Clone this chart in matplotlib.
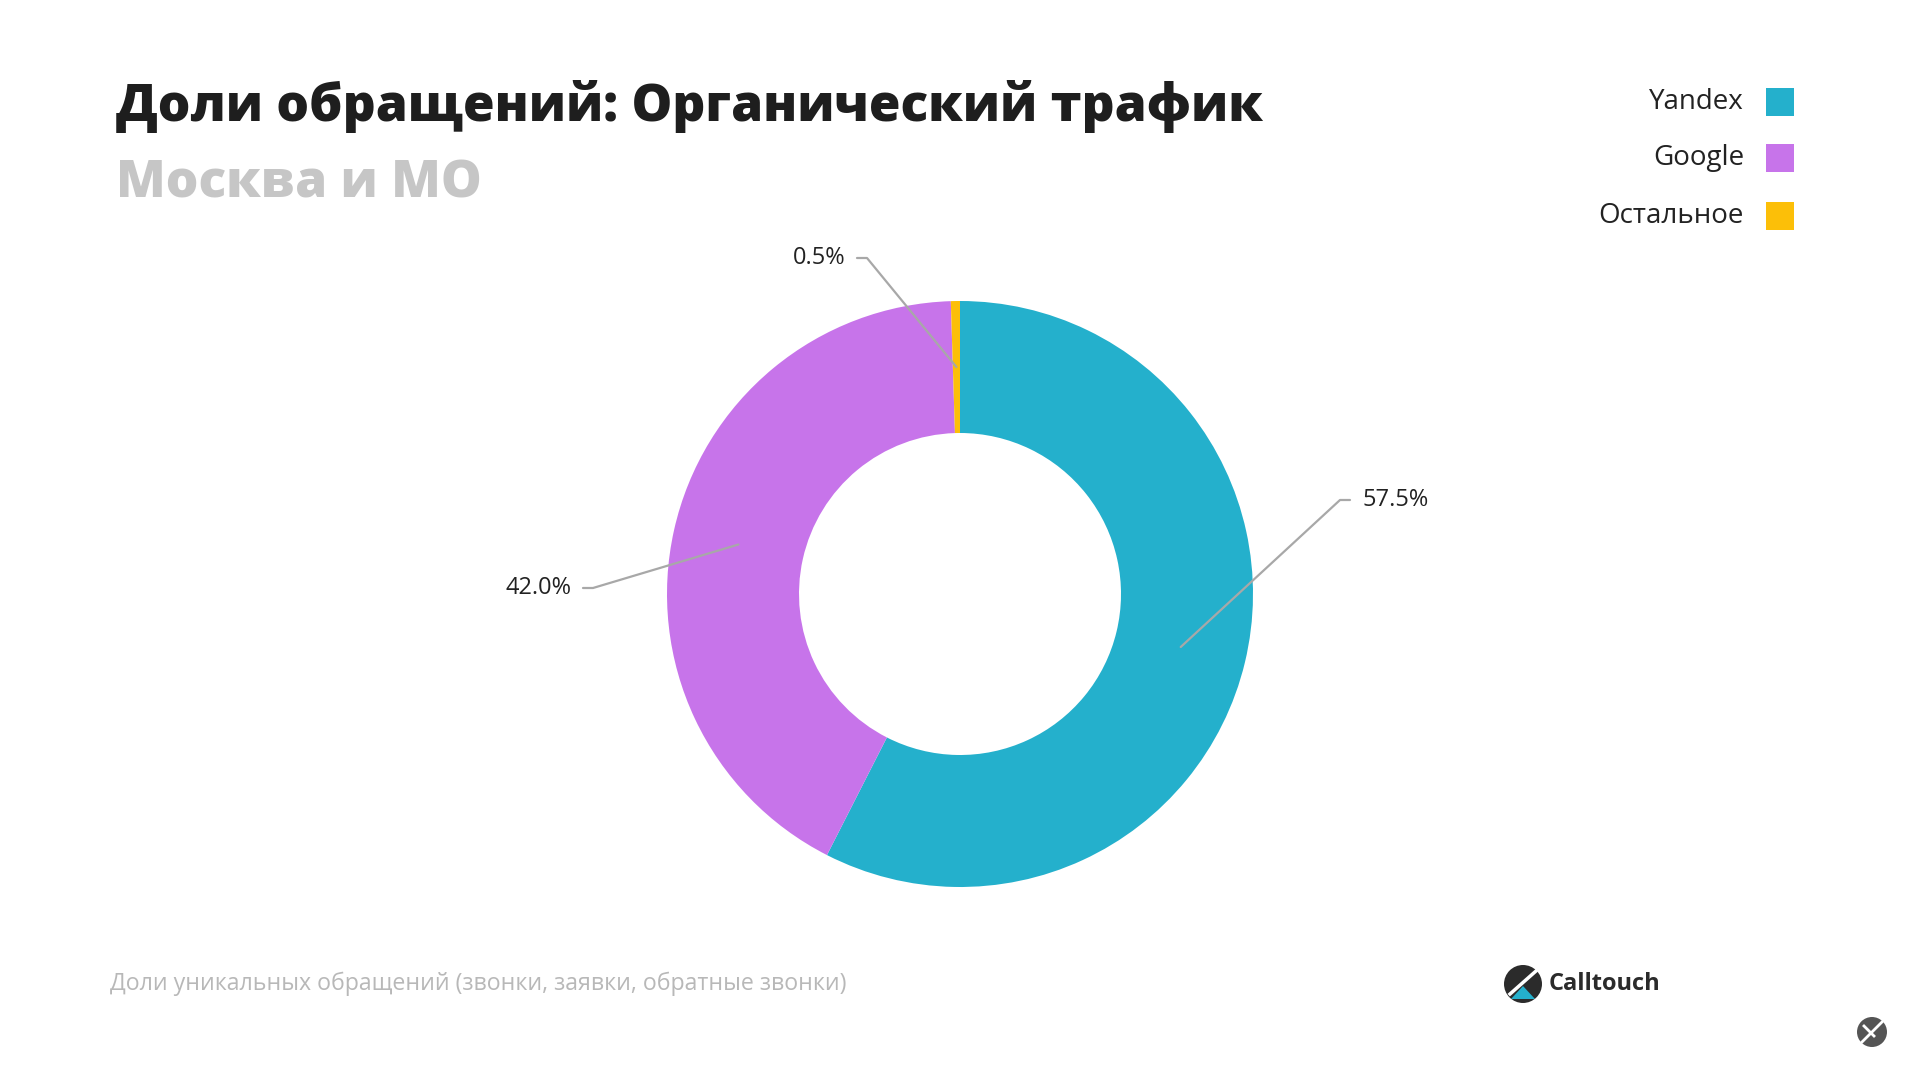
import numpy as np
import matplotlib.pyplot as plt
from matplotlib.patches import Circle, Rectangle, Polygon

# ---------- шрифты ----------
plt.rcParams['font.family'] = ['Open Sans', 'Noto Sans', 'DejaVu Sans']
# ----------------------------

# данные
categories = ['Yandex', 'Google', 'Остальное']
shares = [57.5, 42.0, 0.5]
colors = ['#24b0cc', '#c774ea', '#fcbf08']

title = 'Доли обращений: Органический трафик'
subtitle = 'Москва и МО'
footnote = 'Доли уникальных обращений (звонки, заявки, обратные звонки)'

# положение подписей (пиксели, y сверху), выравнивание
label_pos = [(1362, 500, 'left'), (571, 588, 'right'), (845, 258, 'right')]

W, H = 1910, 1071
fig = plt.figure(figsize=(W / 100, H / 100), dpi=100)
ax = fig.add_axes([0, 0, 1, 1])

def Y(y):
    return H - y

cx, cy = 960, Y(594)
R, ring = 293, 132

wedges, _ = ax.pie(shares, colors=colors, startangle=90, counterclock=False,
                   center=(cx, cy), radius=R,
                   wedgeprops=dict(width=ring, linewidth=0))

ax.set_xlim(0, W)
ax.set_ylim(0, H)
ax.set_aspect('equal')
ax.axis('off')

# подписи с выносными линиями
r_mid = R - ring / 2
for w, v, (tx, ty, ha) in zip(wedges, shares, label_pos):
    ang = np.deg2rad((w.theta1 + w.theta2) / 2)
    px, py = cx + r_mid * np.cos(ang), cy + r_mid * np.sin(ang)
    sign = 1 if ha == 'right' else -1
    x0 = tx + sign * 12
    x1 = x0 + sign * 10
    ax.plot([x0, x1, px], [Y(ty), Y(ty), py], color='#a8a8a8', lw=1.6,
            zorder=5, solid_capstyle='round')
    ax.text(tx, Y(ty), f'{v:.1f}%', ha=ha, va='center', fontsize=17,
            color='#222222')

# заголовки
ax.text(116, Y(121), title, fontsize=37, fontweight=800, color='#1e1e1e',
        va='baseline', ha='left')
ax.text(116, Y(198), subtitle, fontsize=37, fontweight=800, color='#c6c6c6',
        va='baseline', ha='left')

# легенда
legend_y = [102, 158, 216]
for name, c, ly in zip(categories, colors, legend_y):
    ax.text(1744, Y(ly), name, ha='right', va='center', fontsize=20,
            color='#222222')
    ax.add_patch(Rectangle((1766, Y(ly) - 14), 28, 28, color=c, lw=0))

# сноска
ax.text(110, Y(984), footnote, ha='left', va='center', fontsize=16.7,
        color='#b8b8b8')

# логотип Calltouch
lx, ly = 1523, Y(984)
ax.add_patch(Circle((lx, ly), 19, color='#2b2b2b', lw=0))
ax.add_patch(Polygon([(lx - 12, ly - 15), (lx + 12, ly - 15), (lx, ly - 2)],
                     closed=True, color='#24b0cc', lw=0))
ax.plot([lx - 13, lx + 13], [ly - 10, ly + 13], color='white', lw=2.5)
ax.text(1549, ly, 'Calltouch', ha='left', va='center', fontsize=17,
        fontweight='bold', color='#2b2b2b')

# значок в углу
bx, by = 1872, Y(1032)
ax.add_patch(Circle((bx, by), 15, color='#555555', lw=0))
ax.plot([bx - 10, bx + 10], [by - 10, by + 10], color='white', lw=2)
ax.plot([bx - 8, bx + 2], [by + 6, by - 4], color='white', lw=2)

fig.savefig('out.png', dpi=100, facecolor='white')
